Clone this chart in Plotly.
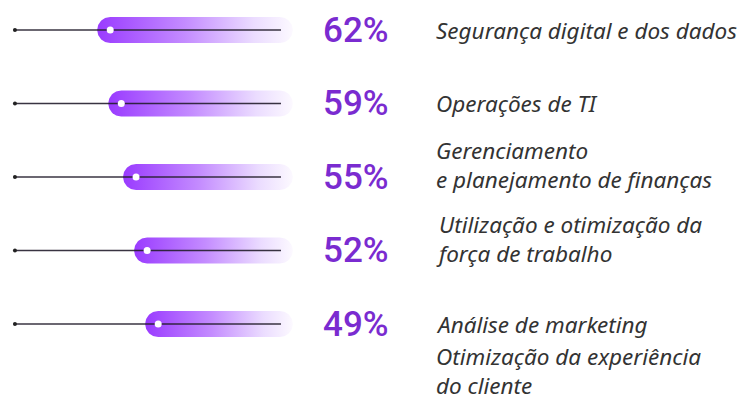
import plotly.graph_objects as go
import numpy as np

# ---- data ----
categories = [
    "Segurança digital e dos dados",
    "Operações de TI",
    "Gerenciamento<br>e planejamento de finanças",
    "Utilização e otimização da<br>força de trabalho",
    "Análise de marketing",
    "Otimização da experiência<br>do cliente",
]
values = [62, 59, 55, 52, 49]
value_labels = ["62%", "59%", "55%", "52%", "49%"]

# ---- layout constants (pixel geometry of the axes) ----
W, H = 743, 403
PX_ORIGIN = 326.0      # pixel x where value 0 would lie
PX_PER_UNIT = 3.69     # pixels per percentage point (axis reversed)
ROW0_PX = 30.0
ROW_STEP_PX = 73.5
AXIS_START = 84.3      # where the thin baseline starts (value units)
PILL_END = 9.0         # right end of each pill (value units)
LINE_END = 12.2        # right end of baseline inside pill
PILL_H_PX = 26.0

x_range = [PX_ORIGIN / PX_PER_UNIT, (PX_ORIGIN - W) / PX_PER_UNIT]
y_range = [(H - ROW0_PX) / ROW_STEP_PX, -ROW0_PX / ROW_STEP_PX]

r_px = PILL_H_PX / 2
rx = r_px / PX_PER_UNIT
ry = r_px / ROW_STEP_PX

fig = go.Figure()

for i, v in enumerate(values):
    cl = v - rx
    cr = PILL_END + rx
    th1 = np.linspace(np.pi / 2, 3 * np.pi / 2, 40)
    th2 = np.linspace(-np.pi / 2, np.pi / 2, 40)
    xs = np.concatenate([cl - np.cos(th1) * rx, cr - np.cos(th2) * rx])
    ys = np.concatenate([i + np.sin(th1) * ry, i + np.sin(th2) * ry])
    xs = np.append(xs, xs[0])
    ys = np.append(ys, ys[0])
    fig.add_trace(go.Scatter(
        x=xs, y=ys, mode="lines", fill="toself",
        line=dict(width=0, color="rgba(0,0,0,0)"),
        fillgradient=dict(
            type="horizontal",
            colorscale=[[0, "#9A3BFF"], [0.45, "#C48CFF"], [0.8, "#EBDCFF"], [1, "#FCF9FF"]],
            start=v, stop=PILL_END,
        ),
        hoverinfo="skip", showlegend=False,
    ))
    fig.add_trace(go.Scatter(
        x=[AXIS_START, LINE_END], y=[i, i], mode="lines",
        line=dict(color="rgba(35,30,45,0.9)", width=1.6),
        hoverinfo="skip", showlegend=False,
    ))
    fig.add_trace(go.Scatter(
        x=[AXIS_START], y=[i], mode="markers",
        marker=dict(size=4, color="#222222"),
        hoverinfo="skip", showlegend=False,
    ))
    fig.add_trace(go.Scatter(
        x=[cl], y=[i], mode="markers",
        marker=dict(size=7, color="white"),
        hoverinfo="skip", showlegend=False,
    ))
    fig.add_annotation(
        x=321 / W, xref="paper", y=i, yref="y", text=value_labels[i],
        showarrow=False, xanchor="left", yanchor="middle",
        font=dict(family="Roboto", size=35, color="#7A2BD0", weight=500),
    )

for i, cat in enumerate(categories):
    n = cat.count("<br>") + 1
    if i < len(values):
        y, yref, yanchor, shift = i, "y", "middle", 12 * (n - 1)
    else:
        y, yref, yanchor, shift = 0, "paper", "bottom", 0
    fig.add_annotation(
        x=434 / W, xref="paper", y=y, yref=yref, text=cat, showarrow=False,
        xanchor="left", yanchor=yanchor, yshift=shift, align="left",
        font=dict(family="Noto Sans", size=22.5, color="#333333", style="italic"),
    )

fig.update_layout(
    width=W, height=H, margin=dict(l=0, r=0, t=0, b=0),
    paper_bgcolor="white", plot_bgcolor="white",
    xaxis=dict(range=x_range, visible=False, fixedrange=True),
    yaxis=dict(range=y_range, visible=False, fixedrange=True),
)

fig.write_html(
    "out.html",
    config={"displayModeBar": False},
    post_script="document.body.style.margin='0';document.body.style.overflow='hidden';",
)
